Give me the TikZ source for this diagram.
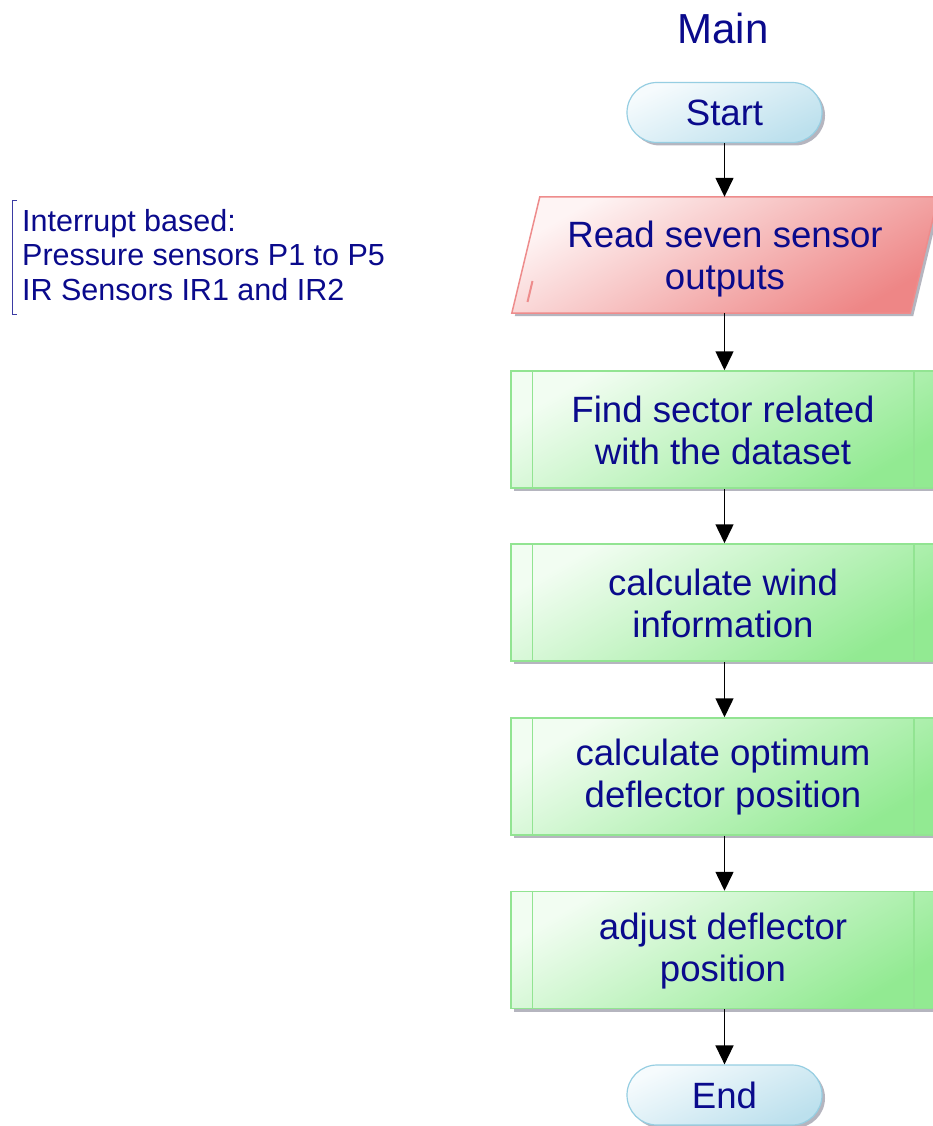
\documentclass[tikz,border=0pt]{standalone}
\usepackage{fontspec}
\setmainfont{Liberation Sans}
\usetikzlibrary{shapes.misc,arrows.meta,calc,shadows}
\definecolor{txt}{RGB}{10,10,140}
\definecolor{blueA}{RGB}{246,251,253}
\definecolor{blueB}{RGB}{188,224,237}
\definecolor{blueE}{RGB}{150,206,226}
\definecolor{pinkA}{RGB}{254,244,244}
\definecolor{pinkB}{RGB}{238,134,134}
\definecolor{pinkE}{RGB}{238,140,140}
\definecolor{greenA}{RGB}{242,253,242}
\definecolor{greenB}{RGB}{146,234,146}
\definecolor{greenE}{RGB}{146,228,146}
\definecolor{shad}{RGB}{150,150,165}
\begin{document}
\begin{tikzpicture}[x=1pt,y=-1pt,
  every node/.style={text=txt,font=\fontsize{36.6}{42}\selectfont,inner sep=0pt,align=center},
  myshadow/.style={drop shadow={shadow xshift=3pt,shadow yshift=-3pt,opacity=0.7,fill=shad}},
  terminal/.style={rounded rectangle,minimum width=195pt,minimum height=60pt,draw=blueE,line width=1.2pt,
    top color=blueA,bottom color=blueB,shading angle=25,myshadow},
  procbox/.style={rectangle,minimum width=424pt,minimum height=117pt,draw=greenE,line width=1.5pt,
    top color=greenA,bottom color=greenB,shading angle=30,myshadow},
  iobox/.style={rectangle,minimum width=398pt,minimum height=116pt},
  iofill/.style={draw=pinkE,line width=1.5pt,top color=pinkA,bottom color=pinkB,shading angle=30,myshadow},
  arr/.style={line width=1.5pt,-{Triangle[length=19pt,width=18pt]}},
  bracket/.style={draw=txt!80,line width=1pt}
]
\clip (0,0) rectangle (933,1126);
\fill[white] (0,0) rectangle (933,1126);

% title
\node (title) at (723,28) {\fontsize{42}{48}\selectfont Main};

% comment
\node[anchor=north west,align=left,font=\fontsize{30.5}{34.5}\selectfont] (note) at (22,209)
  {Interrupt based:\\Pressure sensors P1 to P5\\IR Sensors IR1 and IR2};
\draw[bracket] (17,200) -- (12,200) -- (12,314) -- (17,314);

% start
\node[terminal] (start) at (724.5,112.5) {Start};

% input/output parallelogram
\node[iobox] (read) at (725,255) {};
\path[iofill] ([xshift=14pt]read.north west) -- ([xshift=14pt]read.north east)
  -- ([xshift=-14pt]read.south east) -- ([xshift=-14pt]read.south west) -- cycle;
\draw[pinkE,line width=2pt] (532.5,281) -- (527.5,302);
\node at ([yshift=-4pt]read.center) {Read seven sensor\\outputs};

% process boxes
\node[procbox] (b1) at (723,429.5) {};
\node[procbox] (b2) at (723,602.5) {};
\node[procbox] (b3) at (723,776.5) {};
\node[procbox] (b4) at (723,950) {};
\foreach \b in {b1,b2,b3,b4}{
  \draw[greenE,line width=1.5pt] ([xshift=22pt]\b.north west) -- ([xshift=22pt]\b.south west);
  \draw[greenE,line width=1.5pt] ([xshift=-22pt]\b.north east) -- ([xshift=-22pt]\b.south east);
}
\node at ([yshift=-1pt]b1.center) {Find sector related\\with the dataset};
\node at ([yshift=-1pt]b2.center) {calculate wind\\information};
\node at ([yshift=-1pt]b3.center) {calculate optimum\\deflector position};
\node at ([yshift=-1pt]b4.center) {adjust deflector\\position};

% end
\node[terminal] (end) at (724.5,1095) {End};

% connectors
\draw[arr] (start.south) -- (start.south |- read.north);
\draw[arr] (start.south |- read.south) -- (start.south |- b1.north);
\draw[arr] (start.south |- b1.south) -- (start.south |- b2.north);
\draw[arr] (start.south |- b2.south) -- (start.south |- b3.north);
\draw[arr] (start.south |- b3.south) -- (start.south |- b4.north);
\draw[arr] (start.south |- b4.south) -- (end.north);
\end{tikzpicture}
\end{document}
